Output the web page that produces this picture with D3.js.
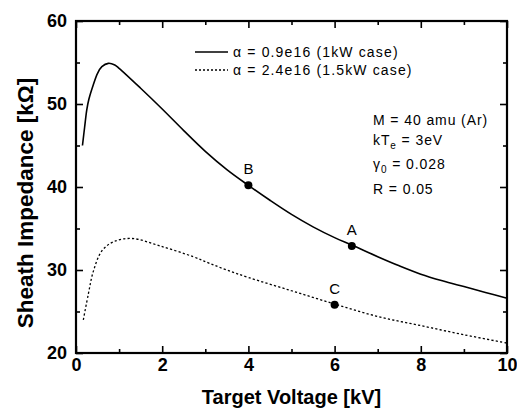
<!DOCTYPE html>
<html><head><meta charset="utf-8">
<script src="https://cdn.jsdelivr.net/npm/d3@7"></script>
<style>
html,body{margin:0;padding:0;background:#fff;}
svg{display:block;}
text{font-family:"Liberation Sans",Arial,Helvetica,sans-serif;fill:#000;}
</style></head>
<body><svg id="c" width="517" height="410"></svg>
<script>
// ---- data ----
const xTicksMajor = [0, 2, 4, 6, 8, 10];
const xTicksMinor = [1, 3, 5, 7, 9];
const yTicksMajor = [20, 30, 40, 50, 60];
const yTicksMinor = [25, 35, 45, 55];

const solidX = [0.15, 0.2, 0.25, 0.3, 0.4, 0.5, 0.6, 0.75, 0.9, 1.0, 1.5, 2.0, 2.5, 3.0, 3.5, 4.0, 4.5, 5.0, 5.5, 6.0, 6.4, 7.0, 7.5, 8.0, 8.5, 9.0, 9.5, 10.0];
const solidY = [45.0, 47.2, 49.3, 50.6, 52.3, 53.7, 54.5, 54.9, 54.7, 54.3, 51.9, 49.4, 46.8, 44.3, 42.1, 40.2, 38.4, 36.7, 35.2, 33.9, 33.0, 31.6, 30.5, 29.5, 28.7, 28.0, 27.3, 26.6];

const dottedX = [0.17, 0.29, 0.4, 0.6, 0.87, 1.29, 1.95, 2.72, 3.1, 3.5, 4.0, 5.0, 6.0, 7.0, 8.0, 9.0, 10.0];
const dottedY = [24.0, 27.2, 29.8, 32.3, 33.4, 33.8, 32.9, 31.6, 30.8, 30.0, 29.1, 27.5, 25.9, 24.4, 23.3, 22.2, 21.2];

const pointLabels = ["B", "A", "C"];
const pointX = [4.0, 6.4, 6.0];
const pointY = [40.2, 32.9, 25.8];

const legendLabels = ["\u03b1 = 0.9e16 (1kW case)", "\u03b1 = 2.4e16 (1.5kW case)"];

// ---- layout ----
const svg = d3.select("#c");
const L = 76, R = 507, T = 21, B = 353;
const x = d3.scaleLinear().domain([0, 10]).range([L, R]);
const y = d3.scaleLinear().domain([20, 60]).range([B, T]);

function styleAxis(g){
  g.select(".domain").remove();
  g.selectAll(".tick line").attr("stroke","#000").attr("stroke-width",1.6);
}

// bottom axis
svg.append("g").attr("transform",`translate(0,${B})`)
  .call(d3.axisBottom(x).tickValues(xTicksMajor).tickSize(-7).tickPadding(5).tickFormat(d3.format("d")))
  .call(styleAxis)
  .call(g=>g.selectAll("text").attr("font-size",18).attr("font-weight","bold").attr("fill","#000"));
svg.append("g").attr("transform",`translate(0,${B})`)
  .call(d3.axisBottom(x).tickValues(xTicksMinor).tickSize(-4).tickFormat(""))
  .call(styleAxis);
// top axis
svg.append("g").attr("transform",`translate(0,${T})`)
  .call(d3.axisTop(x).tickValues(xTicksMajor).tickSize(-7).tickFormat(""))
  .call(styleAxis);
svg.append("g").attr("transform",`translate(0,${T})`)
  .call(d3.axisTop(x).tickValues(xTicksMinor).tickSize(-4).tickFormat(""))
  .call(styleAxis);
// left axis
svg.append("g").attr("transform",`translate(${L},0)`)
  .call(d3.axisLeft(y).tickValues(yTicksMajor).tickSize(-7).tickPadding(9).tickFormat(d3.format("d")))
  .call(styleAxis)
  .call(g=>g.selectAll("text").attr("font-size",18).attr("font-weight","bold").attr("fill","#000"));
svg.append("g").attr("transform",`translate(${L},0)`)
  .call(d3.axisLeft(y).tickValues(yTicksMinor).tickSize(-4).tickFormat(""))
  .call(styleAxis);
// right axis
svg.append("g").attr("transform",`translate(${R},0)`)
  .call(d3.axisRight(y).tickValues(yTicksMajor).tickSize(-7).tickFormat(""))
  .call(styleAxis);
svg.append("g").attr("transform",`translate(${R},0)`)
  .call(d3.axisRight(y).tickValues(yTicksMinor).tickSize(-4).tickFormat(""))
  .call(styleAxis);

// frame
svg.append("rect").attr("x",L).attr("y",T).attr("width",R-L).attr("height",B-T)
  .attr("fill","none").attr("stroke","#000").attr("stroke-width",2.2);

// curves
const line = d3.line().x(d=>x(d[0])).y(d=>y(d[1])).curve(d3.curveCatmullRom.alpha(0.5));
svg.append("path").datum(d3.zip(solidX, solidY)).attr("d",line)
  .attr("fill","none").attr("stroke","#000").attr("stroke-width",1.6);
svg.append("path").datum(d3.zip(dottedX, dottedY)).attr("d",line)
  .attr("fill","none").attr("stroke","#000").attr("stroke-width",1.3).attr("stroke-dasharray","2.2,2.2");

// points
const pts = svg.append("g");
pointLabels.forEach((lab,i)=>{
  pts.append("circle").attr("cx",x(pointX[i])).attr("cy",y(pointY[i])).attr("r",4).attr("fill","#000");
  pts.append("text").attr("x",x(pointX[i])).attr("y",y(pointY[i])-11).attr("text-anchor","middle")
    .attr("font-size",15).text(lab);
});

// legend
const lg = svg.append("g");
legendLabels.forEach((lab,i)=>{
  const ly = 52 + i*18;
  lg.append("line").attr("x1",195).attr("x2",228).attr("y1",ly).attr("y2",ly)
    .attr("stroke","#000").attr("stroke-width",i===0?1.6:1.3).attr("stroke-dasharray",i===0?null:"2,2");
  lg.append("text").attr("x",233).attr("y",ly+5).attr("font-size",14).attr("letter-spacing","1.15px").text(lab);
});

// annotation
const ann = svg.append("g").attr("font-size",14).attr("letter-spacing","0.9px");
const ax = 373;
ann.append("text").attr("x",ax).attr("y",125).text("M = 40 amu (Ar)");
const t2 = ann.append("text").attr("x",ax).attr("y",145);
t2.append("tspan").text("kT");
t2.append("tspan").attr("font-size",10).attr("dy",4).text("e");
t2.append("tspan").attr("dy",-4).text(" = 3eV");
const t3 = ann.append("text").attr("x",ax).attr("y",169);
t3.append("tspan").text("\u03b3");
t3.append("tspan").attr("font-size",10).attr("dy",4).text("0");
t3.append("tspan").attr("dy",-4).text(" = 0.028");
ann.append("text").attr("x",ax).attr("y",194).text("R = 0.05");

// axis titles
svg.append("text").attr("x",(L+R)/2).attr("y",404).attr("text-anchor","middle")
  .attr("font-size",20).attr("font-weight","bold").text("Target Voltage [kV]");
svg.append("text").attr("transform","translate(33,203) rotate(-90)").attr("text-anchor","middle")
  .attr("font-size",22.5).attr("font-weight","bold").text("Sheath Impedance [k\u03a9]");
</script></body></html>
